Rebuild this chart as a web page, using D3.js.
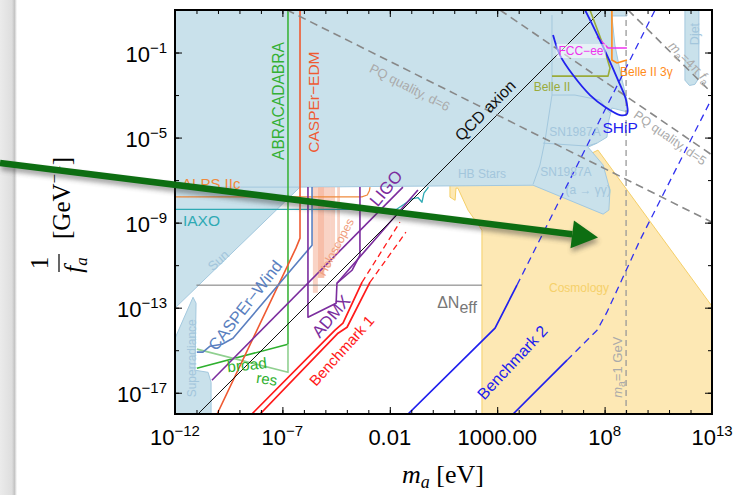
<!DOCTYPE html>
<meta charset="utf-8">
<script src="https://d3js.org/d3.v7.min.js"></script>
<style>
body { margin: 0; background: #fff; }
svg { display: block; font-family: "Liberation Sans", Arial, sans-serif; }
</style>
<body>
<script>
// all points are [log10 m_a (eV), log10 1/f_a (GeV^-1)]
var xTicks = [-12,-11,-10,-9,-8,-7,-6,-5,-4,-3,-2,-1,0,1,2,3,4,5,6,7,8,9,10,11,12,13];
var xMajor = [-12,-7,-2,3,8,13];
var xLabels = [["10","\u221212"],["10","\u22127"],["0.01",""],["1000.00",""],["10","8"],["10","13"]];
var yTicks = [1,-1,-3,-5,-7,-9,-11,-13,-15,-17];
var yMajor = [-1,-5,-9,-13,-17];
var yLabels = [["10","\u22121"],["10","\u22125"],["10","\u22129"],["10","\u221213"],["10","\u221217"]];

var blueMain = [[-12,1],[9.04,1],[9.04,0.72],[8.34,0.72],[8.48,-0.65],[8.76,-2.06],[9.04,-3.24],[9.09,-3.8],[8.34,-3.61],[8.2,-4.18],[8.11,-4.98],[7.65,-5.26],[7.23,-5.45],[7.93,-6.29],[8.25,-7.47],[8.2,-8.41],[7.93,-8.6],[4.67,-7.24],[-6.18,-7.33],[-12,-13.02]];
var superradiance = [[-12,-14.44],[-11.16,-12.51],[-11.02,-12.79],[-11.07,-15.94],[-10.46,-16.04],[-10.32,-16.51],[-10.32,-18],[-12,-18]];
var djet = [[11.74,1],[12.39,1],[12.39,-2.2],[12.2,-2.5],[11.95,-2.55],[11.74,-2.3]];
var snLines = [
  [[5.55,0.76],[5.55,-3.0],[5.23,-5.12],[4.99,-6.29],[4.67,-7.2]],
  [[5.13,-5.26],[7.18,-5.4],[7.65,-5.26]],
  [[5.55,-3.0],[6.62,-3.0],[7.79,-3.24],[8.25,-3.85]],
  [[-12,-7.33],[-6.18,-7.33]]
];
var cosmology = [[0.8,-7.2],[4.67,-7.1],[7.69,-5.59],[13,-12.93],[13,-18],[2.29,-18],[2.29,-9.35],[1.64,-8.41],[1.17,-7.38],[1.08,-7.38],[1.04,-7.95],[0.8,-7.8]];
var holoscopes = [[-5.58,-5.35,-12.3],[-5.35,-5.05,-11.6],[-5.05,-4.75,-11.1],[-4.75,-4.55,-10.6],[-4.45,-4.32,-10.3]];
var holoTop = -7.33;

var qcd = [[-10.93,-18],[7.88,1]];
var pq6 = [[-6.79,1],[13,-8.98]];
var pq5 = [[3.13,1],[13,-5.82]];
var fourPi = [[9.09,1],[13,-2.91]];
var oneGeV = [[9,1],[9,-18]];
var neff = [[-11,-11.94],[2.29,-11.94]];
var alps = [[-12,-7.79],[-3.3,-7.79],[-3.05,-7.7],[-2.95,-7.5],[-2.92,-7.33]];
var iaxo = [[-12,-8.38],[-1.7,-8.38],[-1.35,-8.15],[-0.97,-7.88],[-0.69,-7.82],[-0.5,-8.04],[-0.41,-7.61],[-0.2,-7.33]];
var abra = [[-6.74,1],[-6.74,-14.72]];
var abraBroad = [[-10.98,-15.85],[-6.74,-14.72]];
var abraRes = [[-10.98,-14.95],[-6.74,-16.04],[-6.74,-14.72]];
var caspEdm = [[-6.18,1],[-6.18,-9.73],[-6.37,-10.2],[-10.04,-18]];
var caspWind = [[-5.62,-7.33],[-5.62,-10.06],[-9.3,-14.44],[-9.81,-14.72],[-10.37,-14.81],[-10.7,-15.09],[-10.98,-15.09]];
var admx = [[-5.81,-7.33],[-5.81,-13.45],[-4.5,-12.79],[-4.46,-11.85],[-3.76,-11.24],[-3.39,-10.53],[-3.39,-7.33]];
var ligoA = [[-10.28,-16.41],[-1.39,-7.33]];
var ligoB = [[-4.46,-11.85],[-0.69,-7.47]];
var bench1a = [[-8.42,-18],[-4.55,-14.06],[-4.18,-13.73],[-3.29,-11.8]];
var bench1aDash = [[-3.29,-11.8],[-1.53,-8.98]];
var bench1b = [[-8.04,-18],[-4.41,-14.2],[-3.99,-13.92],[-2.92,-11.8]];
var bench1bDash = [[-2.92,-11.8],[-1.25,-9.45]];
var bench2a = [[-1.15,-18],[2.9,-13.96],[3.92,-11.94]];
var bench2aDash = [[3.92,-11.94],[10.35,1]];
var bench2b = [[3.74,-18],[6.25,-15.47]];
var bench2bDash = [[6.25,-15.47],[7.65,-14.06],[8.11,-13.21],[9.65,-9.82],[13,-3.14]];
var ship = [[5.6,-0.18],[5.92,-1.12],[6.53,-2.06],[7.32,-3.0],[8.02,-3.56],[8.72,-3.94],[9.04,-3.89],[9.0,-3.24],[8.62,-2.29],[8.11,-1.12],[7.6,-0.04],[7.09,1]];
var fcc = [[7.65,-0.27],[8.16,-0.79],[9.04,-0.79]];
var belle3g = [[8.34,1],[8.34,-1.35],[8.58,-1.49],[9.04,-1.35]];
var belle2 = [[5.55,-2.11],[8.16,-2.11],[8.25,-1.73],[7.93,-0.65],[7.32,1]];

var W = 742, H = 495;
var x = d3.scaleLog().domain([1e-12, 1e13]).range([175, 712]);
var y = d3.scaleLog().domain([1e-18, 1e1]).range([414, 10]);
function px(d) { return x(Math.pow(10, d[0])); }
function py(d) { return y(Math.pow(10, d[1])); }
var line = d3.line().x(px).y(py);

var svg = d3.select("body").append("svg").attr("width", W).attr("height", H);
var defs = svg.append("defs");
defs.append("clipPath").attr("id", "clip").append("rect")
  .attr("x", 175).attr("y", 10).attr("width", 537).attr("height", 404);
var grad = defs.append("linearGradient").attr("id", "edge");
grad.append("stop").attr("offset", "0%").attr("stop-color", "#ebebeb");
grad.append("stop").attr("offset", "70%").attr("stop-color", "#dedede");
grad.append("stop").attr("offset", "85%").attr("stop-color", "#c4c4c4");
grad.append("stop").attr("offset", "100%").attr("stop-color", "#ffffff");
defs.append("filter").attr("id", "blur").attr("x", "-10%").attr("y", "-50%").attr("width", "120%").attr("height", "200%")
  .append("feGaussianBlur").attr("stdDeviation", 2.5);

svg.append("rect").attr("width", W).attr("height", H).attr("fill", "#fff");
svg.append("rect").attr("width", 17).attr("height", H).attr("fill", "url(#edge)");

var plot = svg.append("g").attr("clip-path", "url(#clip)");

// regions
plot.append("path").attr("d", line(cosmology) + "Z")
  .attr("fill", "#fde8b4").attr("stroke", "#f5cf68").attr("stroke-width", 1);

var blueFill = "#c9e1eb", blueEdge = "#a3c8de";
[blueMain, superradiance, djet].forEach(function(r) {
  plot.append("path").attr("d", line(r) + "Z")
    .attr("fill", blueFill).attr("stroke", blueEdge).attr("stroke-width", 1);
});
snLines.forEach(function(l) {
  plot.append("path").attr("d", line(l)).attr("fill", "none")
    .attr("stroke", blueEdge).attr("stroke-width", 1);
});

holoscopes.forEach(function(b, i) {
  plot.append("rect")
    .attr("x", x(Math.pow(10, b[0])))
    .attr("width", x(Math.pow(10, b[1])) - x(Math.pow(10, b[0])))
    .attr("y", y(Math.pow(10, holoTop)))
    .attr("height", y(Math.pow(10, b[2])) - y(Math.pow(10, holoTop)))
    .attr("fill", "#f4a88c").attr("opacity", i == 1 ? 0.75 : 0.5);
});

function draw(pts, color, w, dash, curve) {
  var l = curve ? d3.line().x(px).y(py).curve(d3.curveCatmullRom) : line;
  plot.append("path").attr("d", l(pts)).attr("fill", "none")
    .attr("stroke", color).attr("stroke-width", w)
    .attr("stroke-dasharray", dash || null)
    .attr("stroke-linejoin", "round");
}

draw(neff, "#777", 1);
draw(alps, "#f08a3c", 1.3);
draw(iaxo, "#2eaab4", 1.3);
draw(abra, "#3cb43c", 1.6);
draw(abraBroad, "#2eb02e", 1.6);
draw(abraRes, "#90d090", 1.6);
draw(caspEdm, "#ef5a32", 1.6);
draw(caspWind, "#5a7fc0", 1.6);
draw(admx, "#7b2d9e", 1.6);
draw(ligoA, "#7b2d9e", 1.6);
draw(ligoB, "#7b2d9e", 1.6);
draw(qcd, "#111", 1);
draw(pq6, "#888", 1.6, "8,5");
draw(pq5, "#888", 1.6, "8,5");
draw(fourPi, "#888", 1.6, "8,5");
draw(oneGeV, "#999", 1.3, "6,4");
draw(bench1a, "#ff1a1a", 1.7);
draw(bench1b, "#ff1a1a", 1.7);
draw(bench1aDash, "#ff1a1a", 1.3, "6,4");
draw(bench1bDash, "#ff1a1a", 1.3, "6,4");
draw(bench2a, "#2020ee", 1.7);
draw(bench2b, "#2020ee", 1.7);
draw(bench2aDash, "#3030f0", 1.3, "7,5");
draw(bench2bDash, "#3030f0", 1.3, "7,5");
draw(belle2, "#9aab3a", 1.6);
draw(belle3g, "#ff8c1a", 1.6);
draw(fcc, "#ee33ee", 1.6);
draw(ship, "#2222ee", 1.8, null, true);

// labels: text parts [string, kind] with kind i / sub
var notes = [
  {p:[-7.2,-3.28], r:-90, c:"#33b033", s:15.6, t:[["ABRACADABRA"]]},
  {p:[-5.58,-3.33], r:-90, c:"#ef5a32", s:15.5, t:[["CASPEr\u2212EDM"]]},
  {p:[-11.67,-7.14], r:0, c:"#f08a3c", s:15, a:"start", t:[["ALPS IIc"]]},
  {p:[-11.63,-8.88], r:0, c:"#2eaab4", s:15.5, a:"start", t:[["IAXO"]]},
  {p:[-10,-10.76], r:-42, c:"#a3c6dc", s:13, t:[["Sun"]]},
  {p:[-11.21,-15.38], r:-90, c:"#a3c6dc", s:12, t:[["Superradiance"]]},
  {p:[-8.74,-12.88], r:-52, c:"#5a7fc0", s:16.5, t:[["CASPEr\u2212Wind"]]},
  {p:[-8.65,-15.66], r:-6, c:"#2eb02e", s:15.5, t:[["broad"]]},
  {p:[-7.72,-16.32], r:8, c:"#2eb02e", s:15, t:[["res"]]},
  {p:[-4.74,-13.4], r:-50, c:"#7b2d9e", s:17, t:[["ADMX"]]},
  {p:[-2.18,-7.38], r:-50, c:"#7b2d9e", s:17, t:[["LIGO"]]},
  {p:[-4.5,-10.15], r:-62, c:"#f0a080", s:12, t:[["Holoscopes"]]},
  {p:[-4.27,-15.0], r:-48, c:"#ff1a1a", s:15, t:[["Benchmark 1"]]},
  {p:[3.69,-15.56], r:-47, c:"#2020ee", s:16, t:[["Benchmark 2"]]},
  {p:[1.13,-12.74], r:0, c:"#777", s:16, t:[["\u0394N"],["eff","sub"]]},
  {p:[6.81,-12.08], r:0, c:"#f5d06a", s:12, t:[["Cosmology"]]},
  {p:[8.58,-15.8], r:-90, c:"#aaa", s:13, t:[["m","i"],["a","sub"],["=1 GeV"]]},
  {p:[2.43,-3.71], r:-45, c:"#111", s:16, t:[["QCD axion"]]},
  {p:[-1.06,-2.62], r:27, c:"#aaa", s:13, t:[["PQ quality, d=6"]]},
  {p:[11.04,-5.02], r:35, c:"#aaa", s:12.5, t:[["PQ quality, d=5"]]},
  {p:[11.98,-1.45], r:45, c:"#aaa", s:13, t:[["m","i"],["a","sub"],["=4\u03c0 "],["f","i"],["a","sub"]]},
  {p:[2.29,-6.72], r:0, c:"#a3c6dc", s:12, t:[["HB Stars"]]},
  {p:[6.62,-4.74], r:0, c:"#a3c6dc", s:12, t:[["SN1987A"]]},
  {p:[6.2,-6.62], r:0, c:"#a3c6dc", s:12, t:[["SN1987A"]]},
  {p:[7.23,-7.47], r:0, c:"#a3c6dc", s:12, t:[["(a \u2192 \u03b3\u03b3)"]]},
  {p:[5.55,-2.62], r:0, c:"#9aab3a", s:12, t:[["Belle II"]]},
  {p:[6.9,-0.93], r:0, c:"#ee33ee", s:12, bg:true, t:[["FCC\u2212ee"]]},
  {p:[8.72,-1.92], r:0, c:"#ff8c1a", s:12, a:"start", t:[["Belle II 3\u03b3"]]},
  {p:[8.72,-4.51], r:0, c:"#2222ee", s:15.5, t:[["SHiP"]]},
  {p:[12.21,-0.13], r:-90, c:"#a3c6dc", s:12.5, t:[["Djet"]]}
];

var labels = svg.append("g").attr("clip-path", "url(#clip)");
notes.forEach(function(n) {
  var g = labels.append("g")
    .attr("transform", "translate(" + px(n.p) + "," + py(n.p) + ") rotate(" + n.r + ")");
  var t = g.append("text").attr("text-anchor", n.a || "middle")
    .attr("dominant-baseline", "central")
    .attr("fill", n.c).attr("font-size", n.s);
  var shift = 0;
  n.t.forEach(function(part) {
    var ts = t.append("tspan").text(part[0]);
    if (part[1] == "i") ts.attr("font-style", "italic");
    var want = part[1] == "sub" ? n.s * 0.3 : 0;
    if (want != shift) { ts.attr("dy", want - shift); shift = want; }
    if (part[1] == "sub" && n.s < 14) ts.attr("font-size", n.s * 0.8);
  });
  if (n.bg) {
    var bb = t.node().getBBox();
    g.insert("rect", "text").attr("x", bb.x - 2).attr("y", bb.y).attr("width", bb.width + 4)
      .attr("height", bb.height).attr("fill", "#fff").attr("opacity", 0.55);
  }
});

// axes
function tickAxis(axis, vals, size, tr) {
  svg.append("g").attr("transform", tr)
    .call(axis.tickValues(vals).tickSize(size).tickFormat(""))
    .call(function(g) {
      g.select(".domain").remove();
      g.selectAll("line").attr("stroke", "#000").attr("stroke-width", 1);
    });
}
var xv = xTicks.map(function(e) { return Math.pow(10, e); });
var xm = xMajor.map(function(e) { return Math.pow(10, e); });
var yv = yTicks.map(function(e) { return Math.pow(10, e); });
var ym = yMajor.map(function(e) { return Math.pow(10, e); });
tickAxis(d3.axisBottom(x), xv, -4, "translate(0,414)");
tickAxis(d3.axisBottom(x), xm, -7, "translate(0,414)");
tickAxis(d3.axisTop(x), xv, -4, "translate(0,10)");
tickAxis(d3.axisTop(x), xm, -7, "translate(0,10)");
tickAxis(d3.axisLeft(y), yv, -4, "translate(175,0)");
tickAxis(d3.axisLeft(y), ym, -7, "translate(175,0)");
tickAxis(d3.axisRight(y), yv, -4, "translate(712,0)");
tickAxis(d3.axisRight(y), ym, -7, "translate(712,0)");

svg.append("rect").attr("x", 175).attr("y", 10).attr("width", 537).attr("height", 404)
  .attr("fill", "none").attr("stroke", "#000").attr("stroke-width", 2);

function tickText(t, lab) {
  t.append("tspan").text(lab[0]);
  if (lab[1]) t.append("tspan").attr("dy", -9).attr("font-size", 15).text(lab[1]);
}
xMajor.forEach(function(e, i) {
  var t = svg.append("text").attr("x", x(Math.pow(10, e))).attr("y", 445)
    .attr("text-anchor", "middle").attr("font-size", 22).attr("fill", "#000");
  tickText(t, xLabels[i]);
});
yMajor.forEach(function(e, i) {
  var t = svg.append("text").attr("x", 167).attr("y", y(Math.pow(10, e)) + 9)
    .attr("text-anchor", "end").attr("font-size", 22).attr("fill", "#000");
  tickText(t, yLabels[i]);
});

// axis titles
var xt = svg.append("text").attr("x", 443).attr("y", 483).attr("text-anchor", "middle")
  .attr("font-family", "'Liberation Serif', 'Times New Roman', serif").attr("font-size", 26);
xt.append("tspan").attr("font-style", "italic").text("m");
xt.append("tspan").attr("font-style", "italic").attr("font-size", 18).attr("dy", 5).text("a");
xt.append("tspan").attr("dy", -5).text(" [eV]");

var yt = svg.append("g").attr("transform", "translate(62,212) rotate(-90)")
  .attr("font-family", "'Liberation Serif', 'Times New Roman', serif").attr("font-size", 25);
var br = yt.append("text").attr("x", 14).attr("y", 8).attr("text-anchor", "middle");
br.append("tspan").text("[GeV");
br.append("tspan").attr("dy", -10).attr("font-size", 17).text("\u22121");
br.append("tspan").attr("dy", 10).text("]");
yt.append("text").attr("x", -51).attr("y", -14).attr("text-anchor", "middle").text("1");
yt.append("line").attr("x1", -60).attr("x2", -42).attr("y1", -3).attr("y2", -3)
  .attr("stroke", "#000").attr("stroke-width", 1.2);
var fa = yt.append("text").attr("x", -53).attr("y", 20).attr("text-anchor", "middle");
fa.append("tspan").attr("font-style", "italic").text("f");
fa.append("tspan").attr("font-style", "italic").attr("font-size", 17).attr("dy", 5).text("a");

// green pointer arrow drawn over the figure
var arrowFrom = [0, 163], arrowTo = [598, 237.5];
function arrow(g, col) {
  var ang = Math.atan2(arrowTo[1] - arrowFrom[1], arrowTo[0] - arrowFrom[0]);
  var L = 26, hw = 14;
  var bx = arrowTo[0] - L * Math.cos(ang), by = arrowTo[1] - L * Math.sin(ang);
  g.append("line").attr("x1", arrowFrom[0]).attr("y1", arrowFrom[1]).attr("x2", bx).attr("y2", by)
    .attr("stroke", col).attr("stroke-width", 6.5);
  g.append("polygon").attr("fill", col).attr("points", [
    arrowTo,
    [bx - hw * Math.sin(ang), by + hw * Math.cos(ang)],
    [bx + hw * Math.sin(ang), by - hw * Math.cos(ang)]
  ].map(function(p) { return p.join(","); }).join(" "));
}
arrow(svg.append("g").attr("filter", "url(#blur)").attr("opacity", 0.45)
  .attr("transform", "translate(1,4)"), "#333");
arrow(svg.append("g"), "#0d6e12");
</script>
</body>
